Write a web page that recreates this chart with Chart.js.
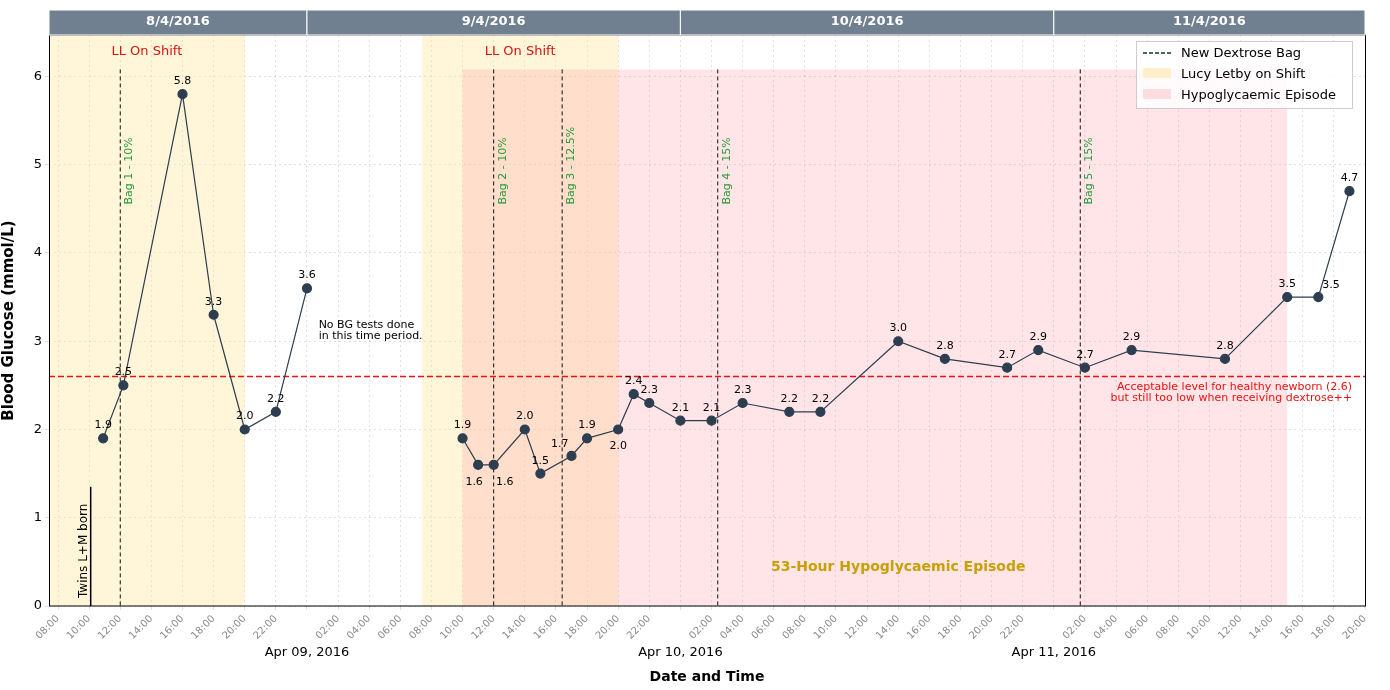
<!DOCTYPE html>
<html><head><meta charset="utf-8">
<script src="https://cdn.jsdelivr.net/npm/chart.js@4"></script>
<style>body{margin:0;background:#fff}#wrap{width:1390px;height:690px}</style>
</head><body><div id="wrap"><canvas id="graph"></canvas></div>
<script>
// x = hours since Apr 8 2016 00:00 ; null value = no tests (gap in line)
const bgHours = [10.9,12.2,16,18,20,22,24,29,34,35,36,38,39,41,42,44,45,46,48,50,52,55,57,62,65,69,71,74,77,83,87,89,91];
const bgValues = [1.9,2.5,5.8,3.3,2.0,2.2,3.6,null,1.9,1.6,1.6,2.0,1.5,1.7,1.9,2.0,2.4,2.3,2.1,2.1,2.3,2.2,2.2,3.0,2.8,2.7,2.9,2.7,2.9,2.8,3.5,3.5,4.7];
const labelPos = ['a','a','a','a','a','a','a','','a','bl','br','a','a','l','a','b','a','a','a','a','a','a','a','a','a','a','a','a','a','a','a','r','a'];
const bagHours = [12, 36, 40.4, 50.4, 73.7];
const bagLabels = ['Bag 1 - 10%','Bag 2 - 10%','Bag 3 - 12.5%','Bag 4 - 15%','Bag 5 - 15%'];
const shifts = [[7.42,20],[31.4,44]];
const hypo = [34, 87];
const dayBands = [[7.42,24,'8/4/2016'],[24,48,'9/4/2016'],[48,72,'10/4/2016'],[72,92,'11/4/2016']];
const dateLabels = [[24,'Apr 09, 2016'],[48,'Apr 10, 2016'],[72,'Apr 11, 2016']];
const threshold = 2.6;
const xMin = 7.42, xMax = 92, yMax = 6.47;

const pad = n => String(n).padStart(2,'0');
const F = 'DejaVu Sans';

const decor = {
  id:'decor',
  beforeDatasetsDraw(c){
    const ctx=c.ctx, x=c.scales.x, y=c.scales.y, a=c.chartArea;
    ctx.save();
    ctx.fillStyle='rgba(255,230,160,0.4)';
    shifts.forEach(s=>ctx.fillRect(x.getPixelForValue(s[0]),a.top,x.getPixelForValue(s[1])-x.getPixelForValue(s[0]),a.bottom-a.top));
    ctx.fillStyle='rgba(255,150,160,0.25)';
    ctx.fillRect(x.getPixelForValue(hypo[0]),y.getPixelForValue(6.08),x.getPixelForValue(hypo[1])-x.getPixelForValue(hypo[0]),y.getPixelForValue(0)-y.getPixelForValue(6.08));
    ctx.fillStyle='#dd1111';ctx.font='13px '+F;ctx.textAlign='center';
    shifts.forEach(s=>ctx.fillText('LL On Shift',x.getPixelForValue((s[0]+s[1])/2),a.top+20));
    ctx.setLineDash([4,3]);ctx.strokeStyle='#111';ctx.lineWidth=1;
    bagHours.forEach((h,i)=>{
      const px=x.getPixelForValue(h);
      ctx.beginPath();ctx.moveTo(px,y.getPixelForValue(6.08));ctx.lineTo(px,a.bottom);ctx.stroke();
      ctx.save();ctx.setLineDash([]);ctx.translate(px+12,y.getPixelForValue(4.55));ctx.rotate(-Math.PI/2);
      ctx.fillStyle='#2a9a3a';ctx.font='11px '+F;ctx.textAlign='left';ctx.fillText(bagLabels[i],0,0);ctx.restore();
    });
    ctx.strokeStyle='#ee1111';ctx.lineWidth=1.6;ctx.setLineDash([6,3]);
    const ty=y.getPixelForValue(threshold);
    ctx.beginPath();ctx.moveTo(a.left,ty);ctx.lineTo(a.right,ty);ctx.stroke();
    ctx.setLineDash([]);
    ctx.fillStyle='#ee1111';ctx.font='11px '+F;ctx.textAlign='right';
    ctx.fillText('Acceptable level for healthy newborn (2.6)',a.right-13,ty+13);
    ctx.fillText('but still too low when receiving dextrose++',a.right-13,ty+24);
    const bx=x.getPixelForValue(10.1);
    ctx.strokeStyle='#000';ctx.lineWidth=1.5;
    ctx.beginPath();ctx.moveTo(bx,a.bottom);ctx.lineTo(bx,y.getPixelForValue(1.35));ctx.stroke();
    ctx.save();ctx.translate(bx-4,a.bottom-8);ctx.rotate(-Math.PI/2);ctx.fillStyle='#000';ctx.font='12px '+F;ctx.textAlign='left';ctx.fillText('Twins L+M born',0,0);ctx.restore();
    ctx.fillStyle='#000';ctx.font='11px '+F;ctx.textAlign='left';
    ctx.fillText('No BG tests done',x.getPixelForValue(24.75),y.getPixelForValue(3.15));
    ctx.fillText('in this time period.',x.getPixelForValue(24.75),y.getPixelForValue(3.02));
    ctx.fillStyle='#c8a000';ctx.font='bold 14px '+F;ctx.textAlign='center';
    ctx.fillText('53-Hour Hypoglycaemic Episode',x.getPixelForValue(62),y.getPixelForValue(0.4));
    ctx.restore();
  },
  afterDatasetsDraw(c){
    const ctx=c.ctx, x=c.scales.x, y=c.scales.y, a=c.chartArea;
    ctx.save();
    ctx.font='11px '+F;ctx.fillStyle='#000';
    bgHours.forEach((h,i)=>{
      if(bgValues[i]===null)return;
      const px=x.getPixelForValue(h), py=y.getPixelForValue(bgValues[i]), p=labelPos[i];
      let dx=0, dy=-10; ctx.textAlign='center';
      if(p==='l'){ctx.textAlign='right';dx=-3;dy=-9;}
      if(p==='r'){ctx.textAlign='left';dx=4;dy=-9;}
      if(p==='b'){dy=20;}
      if(p==='bl'){dy=20;dx=-4;}
      if(p==='br'){dy=20;dx=11;}
      ctx.fillText(bgValues[i].toFixed(1),px+dx,py+dy);
    });
    ctx.strokeStyle='#000';ctx.lineWidth=1;ctx.strokeRect(a.left+0.5,a.top,a.right-a.left,a.bottom-a.top);
    dayBands.forEach(d=>{
      const l=x.getPixelForValue(d[0]), r=x.getPixelForValue(d[1]);
      ctx.fillStyle='#708090';ctx.fillRect(l,10,r-l,25);
      ctx.strokeStyle='#fff';ctx.strokeRect(l,10,r-l,25);
      ctx.fillStyle='#fff';ctx.font='bold 13px '+F;ctx.textAlign='center';ctx.textBaseline='middle';
      ctx.fillText(d[2],(l+r)/2,22);
    });
    ctx.textBaseline='alphabetic';ctx.fillStyle='#000';ctx.font='13px '+F;
    dateLabels.forEach(d=>ctx.fillText(d[1],x.getPixelForValue(d[0]),656));
    const lx=1136, ly=41;
    ctx.fillStyle='rgba(255,255,255,0.85)';ctx.fillRect(lx,ly,216,67);
    ctx.strokeStyle='#ccc';ctx.strokeRect(lx+0.5,ly+0.5,216,67);
    ctx.strokeStyle='#0b3d2a';ctx.setLineDash([4,2]);ctx.lineWidth=1.3;
    ctx.beginPath();ctx.moveTo(lx+7,ly+12);ctx.lineTo(lx+35,ly+12);ctx.stroke();ctx.setLineDash([]);
    ctx.fillStyle='rgba(255,230,160,0.55)';ctx.fillRect(lx+7,ly+27,28,10);
    ctx.fillStyle='rgba(255,150,160,0.3)';ctx.fillRect(lx+7,ly+48,28,10);
    ctx.fillStyle='#000';ctx.font='13px '+F;ctx.textAlign='left';
    ctx.fillText('New Dextrose Bag',lx+45,ly+16);
    ctx.fillText('Lucy Letby on Shift',lx+45,ly+37);
    ctx.fillText('Hypoglycaemic Episode',lx+45,ly+58);
    ctx.restore();
  }
};

const tickVals=[];for(let h=8;h<=92;h+=2)tickVals.push(h);

new Chart(document.getElementById('graph'),{
  type:'line',
  data:{datasets:[{data:bgHours.map((h,i)=>({x:h,y:bgValues[i]})),borderColor:'#2c3e50',borderWidth:1.2,spanGaps:false,
    pointBackgroundColor:'#2c3e50',pointBorderColor:'#2c3e50',pointRadius:4.5,tension:0}]},
  options:{responsive:true,maintainAspectRatio:false,animation:false,
    layout:{padding:{top:35,right:25,left:0,bottom:0}},
    plugins:{legend:{display:false},tooltip:{enabled:false}},
    scales:{
      x:{type:'linear',min:xMin,max:xMax,
        afterBuildTicks:s=>{s.ticks=tickVals.map(v=>({value:v}))},
        afterFit:s=>{s.height=84},
        grid:{color:'rgba(0,0,0,0.12)',drawTicks:true,tickLength:4},border:{dash:[2,3],display:false},
        ticks:{color:'#888',font:{family:F,size:10},maxRotation:45,minRotation:45,autoSkip:false,
          callback:v=>v%24===0?'':pad(v%24)+':00'},
        title:{display:true,text:'Date and Time',font:{family:F,size:14,weight:'bold'},color:'#000',padding:{top:22}}},
      y:{min:0,max:yMax,
        afterBuildTicks:s=>{s.ticks=[0,1,2,3,4,5,6].map(v=>({value:v}))},
        afterFit:s=>{s.width=49},
        grid:{color:'rgba(0,0,0,0.12)',tickLength:4},border:{dash:[2,3],display:false},
        ticks:{color:'#000',font:{family:F,size:13}},
        title:{display:true,text:'Blood Glucose (mmol/L)',font:{family:F,size:15,weight:'bold'},color:'#000',padding:0}}
    }},
  plugins:[decor]
});
</script></body></html>
